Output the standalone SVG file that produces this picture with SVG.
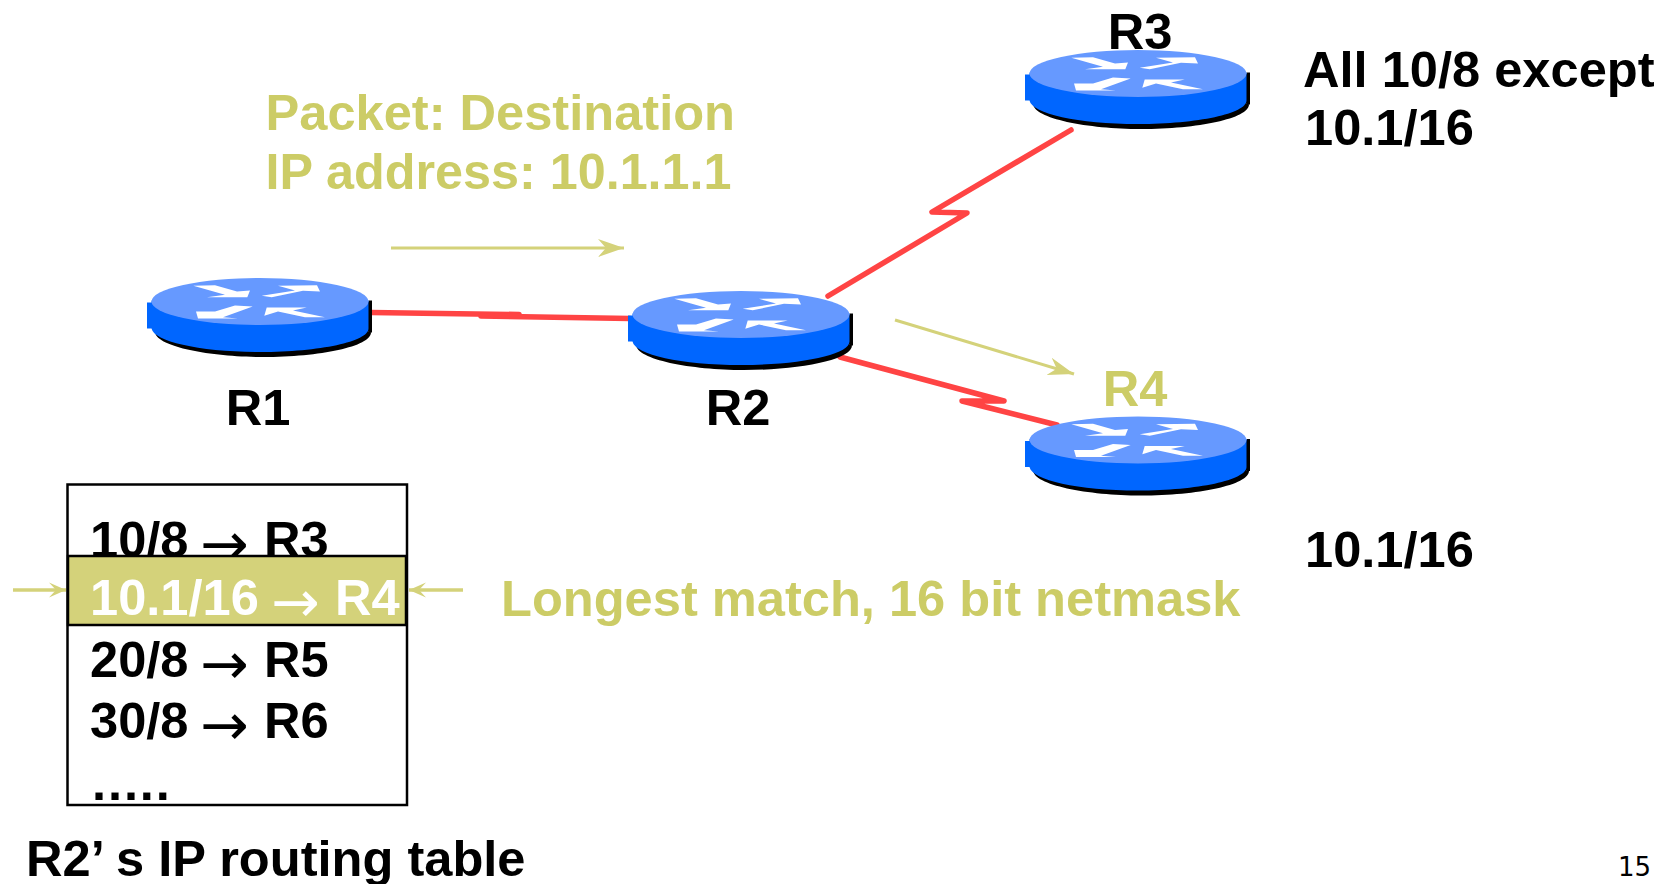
<svg xmlns="http://www.w3.org/2000/svg" width="1672" height="884" viewBox="0 0 1672 884">
<style>
text{font-family:"Liberation Sans",Arial,sans-serif;font-weight:bold;font-size:50.600px;fill:#000}
.o{fill:#cccc66}
.w{fill:#fff}
.m{text-anchor:middle}
.ar{font-family:"DejaVu Sans",sans-serif;font-weight:normal;font-size:58px}
.red{fill:none;stroke:#ff4444;stroke-width:5.500;stroke-linecap:round;stroke-linejoin:round}
.ol{stroke:#d4d27a;stroke-width:3;fill:none;marker-end:url(#ah)}
.os{stroke:#d4d27a;stroke-width:3.500;fill:none;marker-end:url(#as)}
</style>
<defs>
<marker id="ah" markerUnits="userSpaceOnUse" markerWidth="28" markerHeight="22" refX="26" refY="11" orient="auto"><path d="M0 2L26 11L0 20L8 11Z" fill="#d4d27a"/></marker>
<marker id="as" markerUnits="userSpaceOnUse" markerWidth="20" markerHeight="18" refX="18" refY="9" orient="auto"><path d="M1 1.500L18 9L1 16.500L8 9Z" fill="#d4d27a"/></marker>
<g id="router">
<path d="M-105 30H111V0H106V30C106 30 111 30 111 31C111 45 60 55.500 3 55.500C-50 55.500 -105 45 -105 30Z" fill="#000"/>
<path d="M108.500 -1H112V31H108.500Z" fill="#000"/>
<path d="M-113 1H-108.500V-1H108.500V27C108.500 40 60 50.500 0 50.500C-60 50.500 -106 40 -108.500 27H-113Z" fill="#0066ff"/>
<ellipse cx="0" cy="0" rx="108.500" ry="23.500" fill="#6699ff"/>
<path d="M-66.700 -15.700L-45 -16.300L-23 -10L-10 -11L-12.700 -4.300L-53 -4.300L-35 -6.700Z" fill="#fff"/>
<path d="M1.700 -5.700L35 -11L18 -15.700L57 -16.300L60 -10L43 -10.700L11.700 -4.300Z" fill="#fff"/>
<path d="M-64 10L-62 17L-22 17L-37 15.700L-7.300 5L-25 4L-45 10Z" fill="#fff"/>
<path d="M6.700 6L46.700 6L33 9L65 15.700L45 15.700L18 10L4.300 14.300Z" fill="#fff"/>
</g>
</defs>
<g id="connectors">
<path class="red" d="M371 312.500L519 314.500"/>
<path class="red" d="M481 316L630 318.500"/>
<path class="red" d="M1071 130L932 212L967 213L828 296"/>
<path class="red" d="M840 357L1004 401L962 401L1057 425"/>
<line class="ol" x1="391" y1="248" x2="624" y2="248"/>
<line class="ol" x1="895" y1="320" x2="1074" y2="374"/>
<line class="os" x1="13" y1="590" x2="66" y2="590"/>
<line class="os" x1="463" y1="590" x2="409" y2="590"/>
</g>
<g id="R1"><use href="#router" x="260" y="301.500"/><text class="m" x="258" y="425">R1</text></g>
<g id="R2"><use href="#router" x="741" y="314.500"/><text class="m" x="738" y="425">R2</text></g>
<g id="R3"><use href="#router" x="1138" y="73.500"/><text class="m" x="1140" y="49">R3</text></g>
<g id="R4"><use href="#router" x="1138" y="440"/><text class="m o" x="1135" y="406">R4</text></g>
<g id="table">
<rect x="67.500" y="484.500" width="339.500" height="320.500" fill="none" stroke="#000" stroke-width="2.500"/>
<text x="90" y="557">10/8 <tspan class="ar" x="200" y="564">→</tspan> <tspan x="264" y="557">R3</tspan></text>
<rect x="68" y="556" width="338" height="69" fill="#d4d27a" stroke="#000" stroke-width="2.500"/>
<text class="w" x="90" y="615">10.1/16 <tspan class="ar" x="271" y="622">→</tspan> <tspan x="335" y="615">R4</tspan></text>
<text x="90" y="677">20/8 <tspan class="ar" x="200" y="684">→</tspan> <tspan x="264" y="677">R5</tspan></text>
<text x="90" y="738">30/8 <tspan class="ar" x="200" y="745">→</tspan> <tspan x="264" y="738">R6</tspan></text>
<text x="92" y="800" style="letter-spacing:1.900px">.....</text>
</g>
<g id="labels">
<text class="o" x="265.500" y="130">Packet: Destination</text>
<text class="o" x="265.500" y="189" style="font-size:50.300px">IP address: 10.1.1.1</text>
<text x="1303" y="87">All 10/8 except</text>
<text x="1305" y="145">10.1/16</text>
<text x="1305" y="567">10.1/16</text>
<text class="o" x="501" y="616">Longest match, 16 bit netmask</text>
<text x="26" y="876">R2’ s IP routing table</text>
<text x="1618" y="876" style="font-family:'DejaVu Sans',sans-serif;font-weight:normal;font-size:26px">15</text>
</g>
</svg>
